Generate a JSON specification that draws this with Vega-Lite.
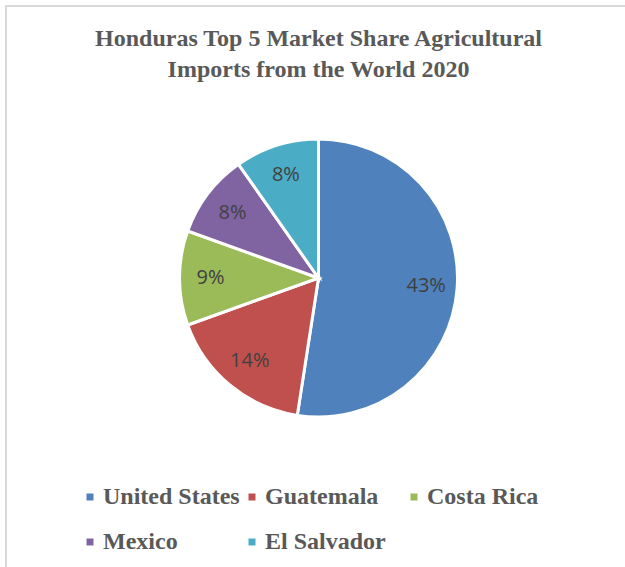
{
  "$schema": "https://vega.github.io/schema/vega-lite/v6.json",
  "autosize": {"type": "none"},
  "padding": {"left": 6, "top": 6, "right": 0, "bottom": 0},
  "width": 625,
  "height": 600,
  "background": "white",
  "view": {"stroke": "#d9d9d9", "strokeWidth": 2},
  "config": {
    "view": {"stroke": "#d9d9d9", "strokeWidth": 2},
    "font": "Liberation Serif"
  },
  "title": {
    "text": ["Honduras Top 5 Market Share Agricultural", "Imports from the World 2020"],
    "font": "Liberation Serif",
    "fontSize": 24,
    "fontWeight": "bold",
    "color": "#595959",
    "lineHeight": 31,
    "anchor": "middle",
    "frame": "group",
    "orient": "top",
    "offset": -76
  },
  "data": {
    "values": [
      {"country": "United States", "share": 0.43, "rank": 1},
      {"country": "Guatemala", "share": 0.14, "rank": 2},
      {"country": "Costa Rica", "share": 0.09, "rank": 3},
      {"country": "Mexico", "share": 0.08, "rank": 4},
      {"country": "El Salvador", "share": 0.08, "rank": 5}
    ]
  },
  "encoding": {
    "theta": {"field": "share", "type": "quantitative", "stack": true},
    "order": {"field": "rank", "type": "quantitative"}
  },
  "layer": [
    {
      "mark": {"type": "arc", "radius": 139, "stroke": "white", "strokeWidth": 3, "y": {"expr": "height/2 - 28"}},
      "encoding": {
        "color": {
          "field": "country",
          "type": "nominal",
          "scale": {
            "domain": ["United States", "Guatemala", "Costa Rica", "Mexico", "El Salvador"],
            "range": ["#4F81BD", "#C0504D", "#9BBB59", "#8064A2", "#4BACC6"]
          },
          "legend": {
            "title": null,
            "orient": "none",
            "legendX": 72,
            "legendY": 479,
            "direction": "horizontal",
            "columns": 3,
            "gridAlign": "all",
            "columnPadding": -2,
            "rowPadding": 21,
            "padding": 0,
            "symbolType": "square",
            "symbolSize": 49,
            "symbolStrokeWidth": 0,
            "labelFont": "Liberation Serif",
            "labelFontSize": 24,
            "labelFontWeight": "bold",
            "labelColor": "#595959",
            "labelOffset": 1,
            "labelLimit": 400
          }
        }
      }
    },
    {
      "mark": {"type": "text", "radius": 108, "font": "Open Sans", "fontSize": 20, "color": "#404040", "y": {"expr": "height/2 - 28"}},
      "encoding": {
        "text": {"field": "share", "type": "quantitative", "format": ".0%"}
      }
    }
  ]
}
